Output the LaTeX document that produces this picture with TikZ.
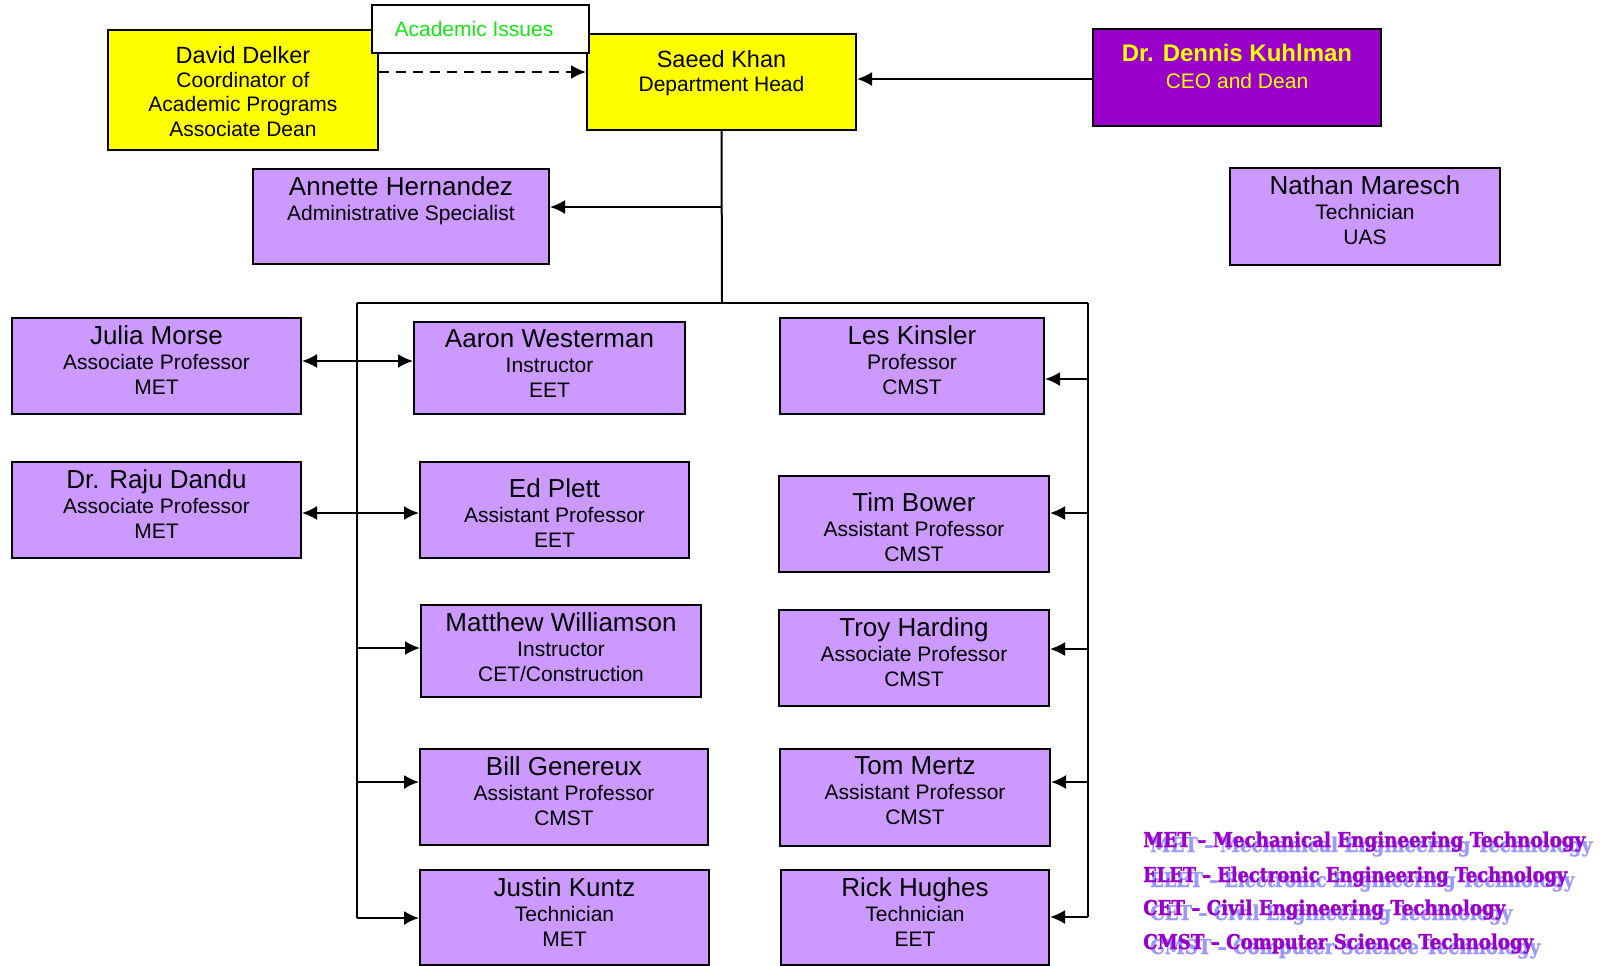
\documentclass[tikz,border=0pt]{standalone}
\usepackage{fontspec}
\setmainfont{Liberation Sans}
\newfontfamily\keyfont{DejaVu Serif}[BoldFeatures={FakeBold=1.5}]
\usetikzlibrary{arrows.meta}
\definecolor{staffpurple}{HTML}{CC99FF}
\definecolor{headyellow}{HTML}{FFFF00}
\definecolor{deanpurple}{HTML}{9900CC}
\definecolor{issuegreen}{RGB}{20,230,20}
\definecolor{keypurple}{HTML}{9900CC}
\definecolor{keyblue}{HTML}{9999FF}
% box texts: [top pad], width, height, name, other lines
\newcommand{\staffcard}[5][7.5]{\parbox[c][#3pt][t]{#2pt}{\centering\vspace*{#1pt}%
  {\fontsize{26}{30}\selectfont #4\par}\vspace{0.3pt}%
  {\fontsize{21}{25}\selectfont #5\par}}}
\newcommand{\headcard}[4]{\parbox[c][#2pt][t]{#1pt}{\centering\vspace*{16.3pt}%
  {\fontsize{23.5}{27}\selectfont #3\par}\vspace{-0.6pt}%
  {\fontsize{21}{24.6}\selectfont #4\par}}}
\newcommand{\keyline}[2]{\resizebox{#1pt}{15.5pt}{#2}}
\tikzset{
  staffbox/.style={draw, fill=staffpurple, line width=2pt, inner sep=0pt},
  headbox/.style={draw, fill=headyellow, line width=2pt, inner sep=0pt},
  link/.style={line width=2pt},
  arr/.style={line width=2pt, -{Latex[length=15pt,width=14pt]}},
  arrboth/.style={line width=2pt, {Latex[length=15pt,width=14pt]}-{Latex[length=15pt,width=14pt]}},
  keytext/.style={anchor=base west, inner sep=0pt, font=\keyfont\bfseries\fontsize{20}{24}\selectfont, text=keypurple},
  keyshadow/.style={keytext, text=keyblue}
}
\begin{document}
\begin{tikzpicture}[x=1pt,y=-1pt]
\useasboundingbox (0,0) rectangle (1612,966);
% top row
\node[headbox] (delker) at (243,90) {\headcard{270}{120}{David Delker}{Coordinator of\\Academic Programs\\Associate Dean}};
\node[headbox] (saeed) at (721.5,82) {\headcard{269}{96}{Saeed Khan}{Department Head}};
\node[draw, fill=deanpurple, line width=2pt, inner sep=0pt, text=headyellow] (kuhlman) at (1237,77.5)
  {\parbox[c][97pt][t]{288pt}{\centering\vspace*{15.5pt}{\fontsize{24}{27}\selectfont\bfseries Dr. Dennis Kuhlman\par}\vspace{-0.4pt}{\fontsize{21}{27}\selectfont CEO and Dean\par}}};
\node[staffbox] (annette) at (401,216.5) {\staffcard{296}{95}{Annette Hernandez}{Administrative Specialist}};
\node[staffbox] (nathan) at (1365,216.5) {\staffcard{270}{97}{Nathan Maresch}{Technician\\UAS}};
% left column
\node[staffbox] (julia) at (156.5,366) {\staffcard{289}{96}{Julia Morse}{Associate Professor\\MET}};
\node[staffbox] (raju) at (156.5,510) {\staffcard{289}{96}{Dr. Raju Dandu}{Associate Professor\\MET}};
% middle column
\node[staffbox] (aaron) at (549.5,368) {\staffcard{271}{92}{Aaron Westerman}{Instructor\\EET}};
\node[staffbox] (ed) at (554.5,510) {\staffcard[16.5]{269}{96}{Ed Plett}{Assistant Professor\\EET}};
\node[staffbox] (matthew) at (561,651) {\staffcard{280}{92}{Matthew Williamson}{Instructor\\CET/Construction}};
\node[staffbox] (bill) at (564,797) {\staffcard{288}{96}{Bill Genereux}{Assistant Professor\\CMST}};
\node[staffbox] (justin) at (564.5,917.5) {\staffcard{289}{95}{Justin Kuntz}{Technician\\MET}};
% right column
\node[staffbox] (les) at (912,366) {\staffcard{264}{96}{Les Kinsler}{Professor\\CMST}};
\node[staffbox] (tim) at (914,524) {\staffcard[16.5]{270}{96}{Tim Bower}{Assistant Professor\\CMST}};
\node[staffbox] (troy) at (914,658) {\staffcard{270}{96}{Troy Harding}{Associate Professor\\CMST}};
\node[staffbox] (tom) at (915,797.5) {\staffcard{270}{97}{Tom Mertz}{Assistant Professor\\CMST}};
\node[staffbox] (rick) at (915,917.5) {\staffcard{268}{95}{Rick Hughes}{Technician\\EET}};
% junctions
\coordinate (dashy) at (0,72);
\coordinate (deany) at (0,79);
\coordinate (tapS) at (722,207);
\coordinate (bus) at (722,303);
\coordinate (busL) at (357,303);
\coordinate (busR) at (1088,303);
\coordinate (tapA) at (357,361);
\coordinate (tapB) at (357,513);
\coordinate (tapC) at (357,648);
\coordinate (tapD) at (357,782);
\coordinate (tapE) at (357,918);
\coordinate (tapF) at (1088,379);
\coordinate (tapG) at (1088,513);
\coordinate (tapH) at (1088,649);
\coordinate (tapI) at (1088,782);
\coordinate (tapJ) at (1088,917);
% connectors
\draw[line width=2pt, dash pattern=on 10pt off 7pt, -{Latex[length=15pt,width=14pt]}] (delker.east |- dashy) -- (saeed.west |- dashy);
\draw[arr] (kuhlman.west |- deany) -- (saeed.east |- deany);
\draw[link] (saeed.south) -- (bus);
\draw[arr] (tapS) -- (tapS -| annette.east);
\draw[link] (busL) -- (busR);
\draw[link] (busL) -- (tapE);
\draw[link] (busR) -- (tapJ);
\draw[arrboth] (julia.east |- tapA) -- (aaron.west |- tapA);
\draw[arrboth] (raju.east |- tapB) -- (ed.west |- tapB);
\draw[arr] (tapC) -- (tapC -| matthew.west);
\draw[arr] (tapD) -- (tapD -| bill.west);
\draw[arr] (tapE) -- (tapE -| justin.west);
\draw[arr] (tapF) -- (tapF -| les.east);
\draw[arr] (tapG) -- (tapG -| tim.east);
\draw[arr] (tapH) -- (tapH -| troy.east);
\draw[arr] (tapI) -- (tapI -| tom.east);
\draw[arr] (tapJ) -- (tapJ -| rick.east);
% label box on top of the dashed link
\node[draw, fill=white, line width=2pt, inner sep=0pt, minimum width=217pt, minimum height=48pt,
  text=issuegreen, font=\fontsize{21}{25}\selectfont] (issues) at (480.5,29) {\kern-13pt Academic Issues};
% legend
\node[keyshadow] (metshadow) at (1150,852) {\keyline{442}{MET – Mechanical Engineering Technology}};
\node[keytext] (metkey) at (1143,847) {\keyline{442}{MET – Mechanical Engineering Technology}};
\node[keyshadow] (eletshadow) at (1150,887) {\keyline{424}{ELET – Electronic Engineering Technology}};
\node[keytext] (eletkey) at (1143,882) {\keyline{424}{ELET – Electronic Engineering Technology}};
\node[keyshadow] (cetshadow) at (1150,920) {\keyline{362}{CET – Civil Engineering Technology}};
\node[keytext] (cetkey) at (1143,915) {\keyline{362}{CET – Civil Engineering Technology}};
\node[keyshadow] (cmstshadow) at (1150,954) {\keyline{390}{CMST – Computer Science Technology}};
\node[keytext] (cmstkey) at (1143,949) {\keyline{390}{CMST – Computer Science Technology}};
\end{tikzpicture}
\end{document}
